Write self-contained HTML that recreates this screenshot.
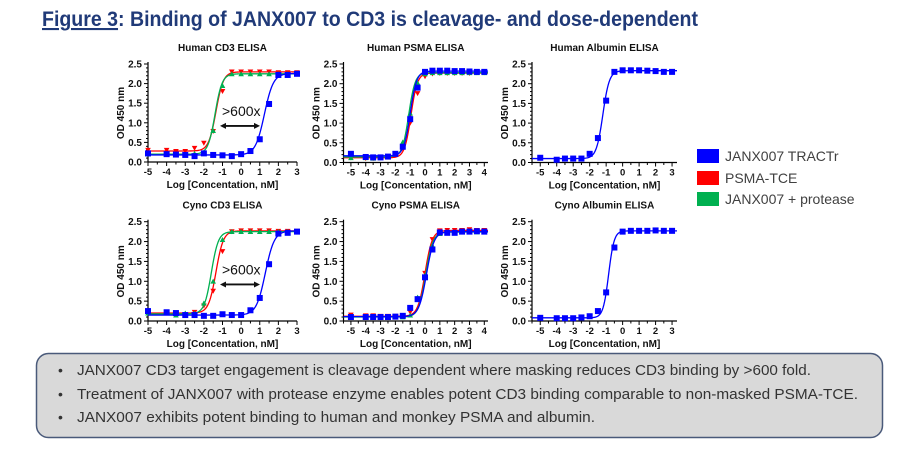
<!DOCTYPE html>
<html><head><meta charset="utf-8"><style>
html,body{margin:0;padding:0;background:#fff;width:915px;height:454px;overflow:hidden}
svg{display:block;font-family:"Liberation Sans",Arial,sans-serif}
</style></head><body>
<svg id="root" width="915" height="454" viewBox="0 0 915 454">
 <text x="42" y="26" font-size="21" font-weight="bold" fill="#203a78" textLength="656" lengthAdjust="spacingAndGlyphs"><tspan text-decoration="underline">Figure 3</tspan>: Binding of JANX007 to CD3 is cleavage- and dose-dependent</text>
 <g id="charts"></g>
 <g>
  <g><rect x="697" y="149" width="22" height="14" fill="#0000ff"/><text x="725" y="161" font-size="14" fill="#404040">JANX007 TRACTr</text></g>
  <g><rect x="697" y="171" width="22" height="14" fill="#ff0000"/><text x="725" y="183" font-size="14" fill="#404040">PSMA-TCE</text></g>
  <g><rect x="697" y="192" width="22" height="14" fill="#00b050"/><text x="725" y="204" font-size="14" fill="#404040">JANX007 + protease</text></g>
 </g>
 <g>
  <rect x="36.5" y="353.5" width="846" height="84" rx="12" fill="#d9d9d9" stroke="#4a5a7a" stroke-width="1.5"/>
  <text x="58" y="375" font-size="14" fill="#333">•</text>
  <text x="77" y="375" font-size="14.5" fill="#333" textLength="734" lengthAdjust="spacingAndGlyphs">JANX007 CD3 target engagement is cleavage dependent where masking reduces CD3 binding by &gt;600 fold.</text>
  <text x="58" y="399" font-size="14" fill="#333">•</text>
  <text x="77" y="399" font-size="14.5" fill="#333" textLength="781" lengthAdjust="spacingAndGlyphs">Treatment of JANX007 with protease enzyme enables potent CD3 binding comparable to non-masked PSMA-TCE.</text>
  <text x="58" y="422" font-size="14" fill="#333">•</text>
  <text x="77" y="422" font-size="14.5" fill="#333" textLength="518" lengthAdjust="spacingAndGlyphs">JANX007 exhibits potent binding to human and monkey PSMA and albumin.</text>
 </g>
</svg>
<script>
// ---- data ----
const xCD3 = [-5,-4,-3.5,-3,-2.5,-2,-1.5,-1,-0.5,0,0.5,1,1.5,2,2.5,3];
const xPSMA = [-5,-4,-3.5,-3,-2.5,-2,-1.5,-1,-0.5,0,0.5,1,1.5,2,2.5,3,3.5,4];
const xALB = [-5,-4,-3.5,-3,-2.5,-2,-1.5,-1,-0.5,0,0.5,1,1.5,2,2.5,3];
const xTicksCD3 = [-5,-4,-3,-2,-1,0,1,2,3];
const xTicksPSMA = [-5,-4,-3,-2,-1,0,1,2,3,4];
const yTicks = [0.0,0.5,1.0,1.5,2.0,2.5];

const hCD3Blue  = [0.22,0.20,0.19,0.18,0.15,0.22,0.18,0.17,0.15,0.20,0.28,0.58,1.48,2.22,2.22,2.25];
const hCD3Red   = [0.30,0.30,0.27,0.27,0.35,0.48,0.78,1.80,2.30,2.30,2.30,2.30,2.30,2.28,2.28,2.28];
const hCD3Green = [0.20,0.20,0.18,0.18,0.22,0.25,0.80,1.95,2.25,2.25,2.25,2.25,2.25,2.25,2.25,2.25];
const hPSMABlue  = [0.22,0.14,0.13,0.13,0.15,0.22,0.40,1.10,1.90,2.30,2.33,2.33,2.33,2.32,2.32,2.31,2.30,2.30];
const hPSMARed   = [0.12,0.10,0.10,0.12,0.15,0.20,0.35,1.00,1.75,2.18,2.25,2.26,2.26,2.26,2.26,2.26,2.28,2.28];
const hPSMAGreen = [0.12,0.12,0.11,0.12,0.15,0.22,0.52,1.25,2.02,2.25,2.28,2.28,2.28,2.28,2.28,2.28,2.28,2.28];
const hALBBlue = [0.12,0.07,0.10,0.10,0.10,0.22,0.62,1.57,2.30,2.34,2.34,2.34,2.33,2.32,2.30,2.30];
const cCD3Blue  = [0.25,0.22,0.20,0.15,0.15,0.13,0.13,0.17,0.15,0.15,0.27,0.58,1.43,2.20,2.22,2.25];
const cCD3Red   = [0.20,0.20,0.18,0.15,0.22,0.38,0.75,1.75,2.25,2.27,2.27,2.27,2.27,2.26,2.26,2.26];
const cCD3Green = [0.20,0.20,0.15,0.20,0.20,0.45,1.00,2.05,2.25,2.25,2.25,2.25,2.25,2.25,2.25,2.25];
const cPSMABlue  = [0.10,0.10,0.10,0.10,0.10,0.11,0.13,0.33,0.55,1.10,1.80,2.23,2.22,2.22,2.25,2.25,2.26,2.25];
const cPSMARed   = [0.15,0.13,0.13,0.12,0.12,0.12,0.12,0.22,0.55,1.20,2.05,2.27,2.28,2.28,2.28,2.30,2.28,2.28];
const cPSMAGreen = [0.10,0.10,0.10,0.10,0.10,0.10,0.10,0.15,0.60,1.15,1.90,2.20,2.22,2.23,2.24,2.24,2.24,2.24];
const cALBBlue = [0.08,0.07,0.07,0.07,0.09,0.12,0.25,0.72,1.85,2.25,2.27,2.27,2.27,2.28,2.27,2.27];

// 4PL fit parameters: [bottom, top, logEC50, hill]
const fitHCD3Blue=[0.18,2.26,1.25,1.8], fitHCD3Red=[0.28,2.30,-1.35,2.2], fitHCD3Green=[0.20,2.25,-1.40,2.3];
const fitHPSMABlue=[0.17,2.32,-1.0,2.0], fitHPSMARed=[0.12,2.27,-0.95,2.0], fitHPSMAGreen=[0.14,2.28,-1.1,2.0];
const fitHALBBlue=[0.10,2.33,-1.2,2.2];
const fitCCD3Blue=[0.15,2.27,1.3,1.8], fitCCD3Red=[0.20,2.27,-1.35,2.2], fitCCD3Green=[0.18,2.25,-1.6,2.3];
const fitCPSMABlue=[0.11,2.25,0.1,1.7], fitCPSMARed=[0.12,2.28,0.0,1.8], fitCPSMAGreen=[0.10,2.24,0.05,1.8];
const fitCALBBlue=[0.08,2.27,-0.85,2.6];

const NS='http://www.w3.org/2000/svg';
const BLUE='#0000ff', RED='#ff0000', GREEN='#00b050';
const panels=[
 {name:'human-cd3',title:'Human CD3 ELISA',L:148,R:297,xmin:-5,xmax:3,T:64,B:162,xt:xTicksCD3,arrow:true,
  s:[['psma-tce',RED,'tri-down',xCD3,hCD3Red,fitHCD3Red],['janx007-protease',GREEN,'tri-up',xCD3,hCD3Green,fitHCD3Green],['janx007-tractr',BLUE,'sq',xCD3,hCD3Blue,fitHCD3Blue]]},
 {name:'human-psma',title:'Human PSMA ELISA',L:343.5,R:488,xmin:-5.5,xmax:4.25,T:64,B:162.5,xt:xTicksPSMA,
  s:[['psma-tce',RED,'tri-down',xPSMA,hPSMARed,fitHPSMARed],['janx007-protease',GREEN,'tri-up',xPSMA,hPSMAGreen,fitHPSMAGreen],['janx007-tractr',BLUE,'sq',xPSMA,hPSMABlue,fitHPSMABlue]]},
 {name:'human-albumin',title:'Human Albumin ELISA',L:532,R:677,xmin:-5.5,xmax:3.3,T:64,B:162.5,xt:xTicksCD3,
  s:[['janx007-tractr',BLUE,'sq',xALB,hALBBlue,fitHALBBlue]]},
 {name:'cyno-cd3',title:'Cyno CD3 ELISA',L:148,R:297,xmin:-5,xmax:3,T:221.7,B:321,xt:xTicksCD3,arrow:true,
  s:[['psma-tce',RED,'tri-down',xCD3,cCD3Red,fitCCD3Red],['janx007-protease',GREEN,'tri-up',xCD3,cCD3Green,fitCCD3Green],['janx007-tractr',BLUE,'sq',xCD3,cCD3Blue,fitCCD3Blue]]},
 {name:'cyno-psma',title:'Cyno PSMA ELISA',L:343.5,R:488,xmin:-5.5,xmax:4.25,T:221.7,B:321,xt:xTicksPSMA,
  s:[['psma-tce',RED,'tri-down',xPSMA,cPSMARed,fitCPSMARed],['janx007-protease',GREEN,'tri-up',xPSMA,cPSMAGreen,fitCPSMAGreen],['janx007-tractr',BLUE,'sq',xPSMA,cPSMABlue,fitCPSMABlue]]},
 {name:'cyno-albumin',title:'Cyno Albumin ELISA',L:532,R:677,xmin:-5.5,xmax:3.3,T:221.7,B:321,xt:xTicksCD3,
  s:[['janx007-tractr',BLUE,'sq',xALB,cALBBlue,fitCALBBlue]]}
];
function mk(tag,attrs,parent){const e=document.createElementNS(NS,tag);for(const k in attrs)e.setAttribute(k,attrs[k]);parent.appendChild(e);return e;}
const root=document.getElementById('charts');
panels.forEach(p=>{
 const g=mk('g',{},root);
 
 
 const sx=v=>p.L+(v-p.xmin)/(p.xmax-p.xmin)*(p.R-p.L);
 const sy=v=>p.B-v/2.5*(p.B-p.T);
 const cx=(p.L+p.R)/2;
 const t=mk('text',{x:cx,y:p.T-13,'font-size':10,'font-weight':'bold','text-anchor':'middle',fill:'#111'},g);t.textContent=p.title;
 
 
 mk('line',{x1:p.L,y1:p.T-2,x2:p.L,y2:p.B,stroke:'#000','stroke-width':1.2},g);
 mk('line',{x1:p.L,y1:p.B,x2:p.R,y2:p.B,stroke:'#000','stroke-width':1.2},g);
 for(let v=0;v<=2.5001;v+=0.1){const maj=Math.abs(v*2-Math.round(v*2))<1e-6;mk('line',{x1:p.L-(maj?4:2),x2:p.L,y1:sy(v),y2:sy(v),stroke:'#000','stroke-width':1},g);}
 yTicks.forEach(v=>{const tt=mk('text',{x:p.L-6,y:sy(v)+3.5,'font-size':10,'font-weight':'bold','text-anchor':'end',fill:'#111'},g);tt.textContent=v.toFixed(1);
  
  });
 for(let v=Math.ceil(p.xmin*2)/2;v<=p.xmax+1e-6;v+=0.5){const maj=Math.abs(v-Math.round(v))<1e-6;mk('line',{x1:sx(v),x2:sx(v),y1:p.B,y2:p.B+(maj?4:2.5),stroke:'#000','stroke-width':1},g);}
 p.xt.forEach(v=>{const tt=mk('text',{x:sx(v),y:p.B+13,'font-size':9.5,'font-weight':'bold','text-anchor':'middle',fill:'#111'},g);tt.textContent=v;
  
  });
 const xl=mk('text',{x:cx,y:p.B+26,'font-size':10,'font-weight':'bold','text-anchor':'middle',fill:'#111'},g);xl.textContent='Log [Concentation, nM]';
 
 
 const yx=p.L-24,yy=(p.T+p.B)/2;
 const yl=mk('text',{x:yx,y:yy,'font-size':10,'font-weight':'bold','text-anchor':'middle',fill:'#111',transform:`rotate(-90 ${yx} ${yy})`},g);yl.textContent='OD 450 nm';
 
 
 p.s.forEach(s=>{
  const [nm,col,shape,xs,ys,f]=s;
  const sg=mk('g',{},g);
  
  
  let d='';
  for(let i=0;i<=200;i++){const x=p.xmin+(p.xmax-p.xmin)*i/200;const y=f[0]+(f[1]-f[0])/(1+Math.pow(10,(f[2]-x)*f[3]));d+=(i?'L':'M')+sx(x).toFixed(2)+' '+sy(y).toFixed(2);}
  const ln=mk('path',{d:d,fill:'none',stroke:col,'stroke-width':1.3},sg);
  
  
  xs.forEach((xv,i)=>{
   const X=sx(xv),Y=sy(ys[i]);let m;
   if(shape==='sq') m=mk('rect',{x:X-3,y:Y-3,width:6,height:6,fill:col},sg);
   else if(shape==='tri-down') m=mk('path',{d:`M${X-2.8} ${Y-2.4}L${X+2.8} ${Y-2.4}L${X} ${Y+2.6}Z`,fill:col},sg);
   else m=mk('path',{d:`M${X-2.8} ${Y+2.4}L${X+2.8} ${Y+2.4}L${X} ${Y-2.6}Z`,fill:col},sg);
   
   
  });
 });
 if(p.arrow){
  const ay=sy(0.92), ty=sy(1.3);
  const at=mk('text',{x:222,y:ty+5,'font-size':14,fill:'#111'},g);at.textContent='>600x';
  
  
  const ag=mk('g',{},g);
  
  
  mk('line',{x1:224,x2:256,y1:ay,y2:ay,stroke:'#111','stroke-width':1.8},ag);
  mk('path',{d:`M220 ${ay}L226 ${ay-3}L226 ${ay+3}Z`,fill:'#111'},ag);
  mk('path',{d:`M260 ${ay}L254 ${ay-3}L254 ${ay+3}Z`,fill:'#111'},ag);
 }
});
</script>
</body></html>
